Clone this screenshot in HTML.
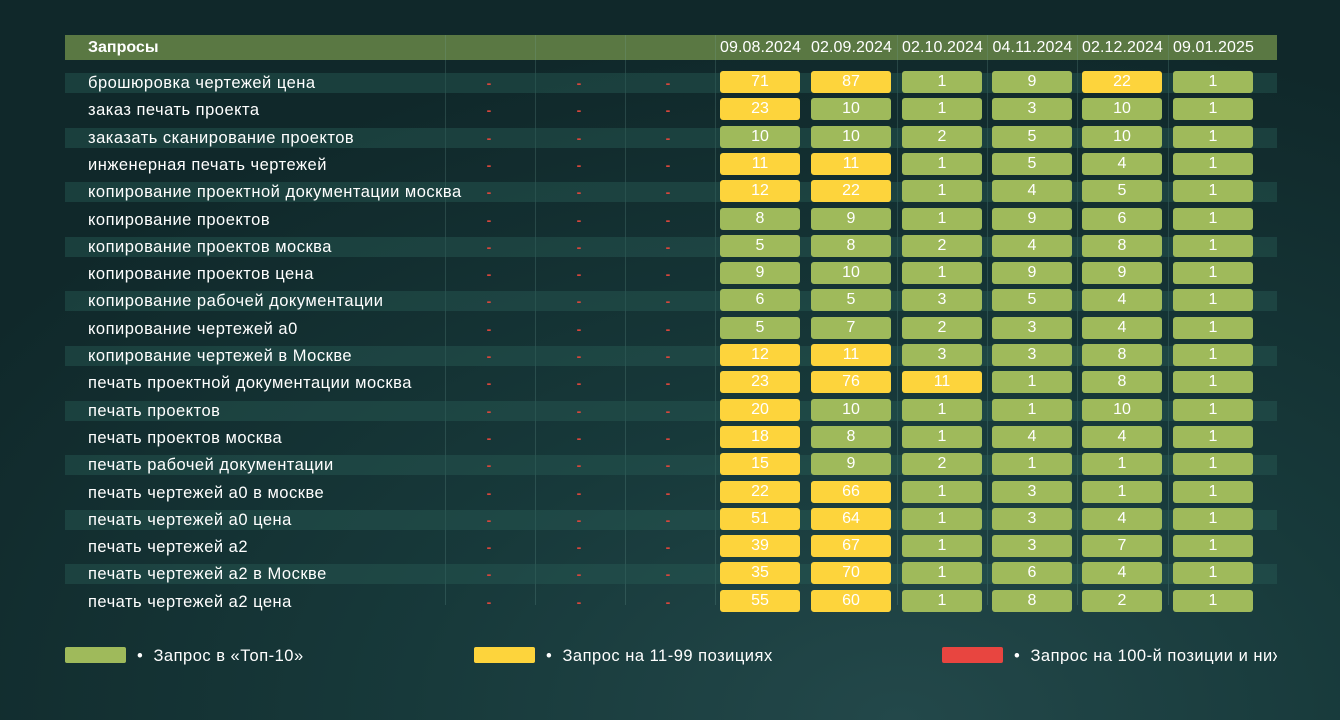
<!DOCTYPE html>
<html><head><meta charset="utf-8"><style>
html,body{margin:0;padding:0}
body{width:1340px;height:720px;overflow:hidden;position:relative;font-family:"Liberation Sans","DejaVu Sans",sans-serif;color:#fff;
background:radial-gradient(ellipse 1100px 700px at 900px 720px,#23484a 0%,#17393a 45%,#10282a 100%);}
.a{position:absolute}
.hdr{left:65px;top:35px;width:1212px;height:25px;background:#5a7843}
.vl{width:1px;background:rgba(120,170,160,0.22)}
.stripe{left:65px;width:1212px;height:20px;background:rgba(40,90,85,0.45)}
.q{left:88px;font-size:16.5px;line-height:20px;white-space:nowrap;letter-spacing:0.5px}
.d{color:#d8463c;font-size:14px;width:20px;text-align:center;line-height:20px;font-weight:bold}
.b{width:80px;height:22px;border-radius:3px;text-align:center;font-size:16px;line-height:22px}
.g{background:#9fba5b}.y{background:#fdd43c}
.dt{top:35px;height:25px;line-height:25px;font-size:16px;text-align:center;width:91px;letter-spacing:0.1px}
.lg{font-size:16.5px;line-height:16px;white-space:nowrap;letter-spacing:0.5px}
</style></head><body>
<div class="a hdr"></div>
<div class="a" style="left:88px;top:35px;line-height:25px;font-size:16px;font-weight:bold">Запросы</div>
<div id="c"></div>
<div class="a" style="left:65px;top:647px;width:61px;height:16px;background:#9fba5b;border-radius:2px"></div>
<div class="a lg" style="left:137px;top:648px">•&nbsp; Запрос в «Топ-10»</div>
<div class="a" style="left:474px;top:647px;width:61px;height:16px;background:#fdd43c;border-radius:2px"></div>
<div class="a lg" style="left:546px;top:648px">•&nbsp; Запрос на 11-99 позициях</div>
<div class="a" style="left:942px;top:647px;width:61px;height:16px;background:#e84540;border-radius:2px"></div>
<div class="a lg" style="left:1014px;top:648px;width:263px;overflow:hidden">•&nbsp; Запрос на 100-й позиции и ниже</div>
<script>
var q=["брошюровка чертежей цена","заказ печать проекта","заказать сканирование проектов","инженерная печать чертежей","копирование проектной документации москва","копирование проектов","копирование проектов москва","копирование проектов цена","копирование рабочей документации","копирование чертежей а0","копирование чертежей в Москве","печать проектной документации москва","печать проектов","печать проектов москва","печать рабочей документации","печать чертежей а0 в москве","печать чертежей а0 цена","печать чертежей а2","печать чертежей а2 в Москве","печать чертежей а2 цена"];
var v=[[71,87,1,9,22,1],[23,10,1,3,10,1],[10,10,2,5,10,1],[11,11,1,5,4,1],[12,22,1,4,5,1],[8,9,1,9,6,1],[5,8,2,4,8,1],[9,10,1,9,9,1],[6,5,3,5,4,1],[5,7,2,3,4,1],[12,11,3,3,8,1],[23,76,11,1,8,1],[20,10,1,1,10,1],[18,8,1,4,4,1],[15,9,2,1,1,1],[22,66,1,3,1,1],[51,64,1,3,4,1],[39,67,1,3,7,1],[35,70,1,6,4,1],[55,60,1,8,2,1]];
var dates=["09.08.2024","02.09.2024","02.10.2024","04.11.2024","02.12.2024","09.01.2025"];
var cx=[715,806,897,987,1077,1168];
var h="";
[445,535,625,715,897,987,1077,1168].forEach(function(x){h+='<div class="a vl" style="left:'+x+'px;top:35px;height:570px"></div>';});
dates.forEach(function(d,i){h+='<div class="a dt" style="left:'+cx[i]+'px">'+d+'</div>';});
for(var r=0;r<20;r++){var c=Math.round(82+r*27.3);
if(r%2==0)h+='<div class="a stripe" style="top:'+(c-9)+'px"></div>';
h+='<div class="a q" style="top:'+(c-9)+'px">'+q[r]+'</div>';
[489,579,668].forEach(function(x){h+='<div class="a d" style="left:'+(x-10)+'px;top:'+(c-9)+'px">-</div>';});
for(var k=0;k<6;k++){var n=v[r][k];h+='<div class="a b '+(n>10?'y':'g')+'" style="left:'+(cx[k]+5)+'px;top:'+(c-11)+'px">'+n+'</div>';}
}
document.getElementById('c').innerHTML=h;
</script>
</body></html>
